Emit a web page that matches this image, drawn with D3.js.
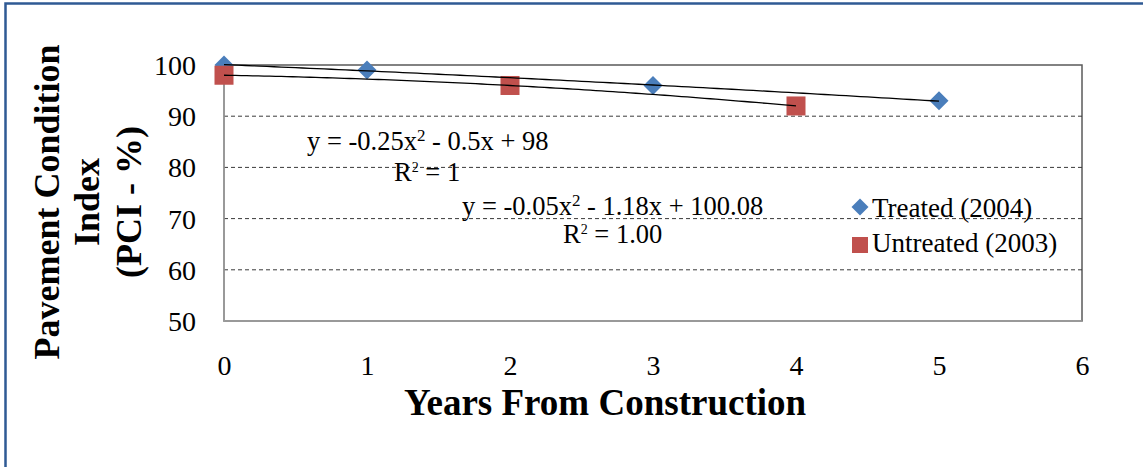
<!DOCTYPE html>
<html>
<head>
<meta charset="utf-8">
<script src="https://cdn.jsdelivr.net/npm/d3@7"></script>
<style>
  html, body { margin: 0; padding: 0; background: #fff; }
  svg { display: block; }
  text { font-family: "Liberation Serif", "Times New Roman", serif; fill: #000; }
</style>
</head>
<body>
<svg id="chart" width="1143" height="467"></svg>
<script>
// ---- data ----
const treatedYears = [0, 1, 3, 5];
const treatedPCI = [100, 99, 96, 93];
const untreatedYears = [0, 2, 4];
const untreatedPCI = [98, 96, 92];
// polynomial trendline coefficients [a2, a1, a0] (as printed on the chart)
const treatedTrend = [-0.05, -1.18, 100.08];
const untreatedTrend = [-0.25, -0.5, 98];
const xTicks = [0, 1, 2, 3, 4, 5, 6];
const yTicks = [50, 60, 70, 80, 90, 100];
const seriesNames = ["Treated (2004)", "Untreated (2003)"];
const yTitleLines = ["Pavement Condition", "Index", "(PCI - %)"];
const xTitle = "Years From Construction";

const svg = d3.select("#chart");

// outer frame (blue, only top/left visible)
svg.append("rect").attr("x", 5.5).attr("y", 3.5).attr("width", 1200).attr("height", 600)
  .attr("fill", "none").attr("stroke", "#2f5a94").attr("stroke-width", 2.5);

const x = d3.scaleLinear().domain([0, 6]).range([224, 1082]);
const y = d3.scaleLinear().domain([50, 100]).range([321, 65]);

// plot area border
svg.append("rect").attr("x", x(0)).attr("y", y(100)).attr("width", x(6) - x(0)).attr("height", y(50) - y(100))
  .attr("fill", "none").attr("stroke", "#5a5a5a").attr("stroke-width", 1.5);

// gridlines
svg.append("g").selectAll("line").data(yTicks.filter(d => d > 50 && d < 100)).join("line")
  .attr("x1", x(0)).attr("x2", x(6)).attr("y1", d => y(d)).attr("y2", d => y(d))
  .attr("stroke", "#3a3a3a").attr("stroke-width", 1).attr("stroke-dasharray", "4,3");

// axes lines (gray)
svg.append("line").attr("x1", x(0)).attr("x2", x(0)).attr("y1", y(100)).attr("y2", y(50))
  .attr("stroke", "#a0a0a0").attr("stroke-width", 1.5);
svg.append("line").attr("x1", x(0)).attr("x2", x(6)).attr("y1", y(50)).attr("y2", y(50))
  .attr("stroke", "#a0a0a0").attr("stroke-width", 1.5);

// y axis tick labels
const yAxis = svg.append("g").attr("transform", "translate(196,0)")
  .call(d3.axisLeft(y).tickValues(yTicks).tickSize(0).tickPadding(0).tickFormat(d3.format("d")));
yAxis.select(".domain").remove();
yAxis.selectAll("text").attr("font-size", 28).attr("dy", "0.34em");

// x axis tick labels
const xAxis = svg.append("g").attr("transform", "translate(0,356)")
  .call(d3.axisBottom(x).tickValues(xTicks).tickSize(0).tickPadding(0).tickFormat(d3.format("d")));
xAxis.select(".domain").remove();
xAxis.selectAll("text").attr("font-size", 28).attr("dy", "0.68em");

// trendlines
function trendPts(c, xmax) {
  const pts = [];
  for (let i = 0; i <= 100; i++) {
    const xv = xmax * i / 100;
    pts.push([xv, c[0] * xv * xv + c[1] * xv + c[2]]);
  }
  return pts;
}
const line = d3.line().x(d => x(d[0])).y(d => y(d[1]));
function diamondPath(cx, cy, r) {
  return `M${cx},${cy - r}L${cx + r},${cy}L${cx},${cy + r}L${cx - r},${cy}Z`;
}

// markers (treated first, untreated drawn over it)
svg.append("g").selectAll("path").data(treatedYears.map((d, i) => [d, treatedPCI[i]])).join("path")
  .attr("d", d => diamondPath(x(d[0]), y(d[1]), 9.5))
  .attr("fill", "#4a7ebb");
svg.append("g").selectAll("rect").data(untreatedYears.map((d, i) => [d, untreatedPCI[i]])).join("rect")
  .attr("x", d => x(d[0]) - 9.5).attr("y", d => y(d[1]) - 9.5).attr("width", 19).attr("height", 19)
  .attr("fill", "#c0504d");
// trendlines on top of markers (as in Excel)
svg.append("path").attr("d", line(trendPts(treatedTrend, d3.max(treatedYears))))
  .attr("fill", "none").attr("stroke", "#000").attr("stroke-width", 1.3);
svg.append("path").attr("d", line(trendPts(untreatedTrend, d3.max(untreatedYears))))
  .attr("fill", "none").attr("stroke", "#000").attr("stroke-width", 1.3);

// equation labels
function fmt(v) { return String(Math.abs(v)); }
const eqSize = 26.5;
function eqText(g, c, px, py) {
  const t = g.append("text").attr("x", px).attr("y", py).attr("font-size", eqSize);
  t.append("tspan").text(`y = ${c[0] < 0 ? "-" : ""}${fmt(c[0])}x`);
  t.append("tspan").text("2").attr("font-size", 17).attr("dy", -9);
  t.append("tspan").text(` ${c[1] < 0 ? "-" : "+"} ${fmt(c[1])}x + ${c[2].toFixed(String(c[2]).includes(".") ? 2 : 0)}`).attr("dy", 9);
}
function r2Text(g, label, px, py) {
  const t = g.append("text").attr("x", px).attr("y", py).attr("font-size", eqSize);
  t.append("tspan").text("R");
  t.append("tspan").text("2").attr("font-size", 14).attr("dy", -9);
  t.append("tspan").text(` = ${label}`).attr("dy", 9);
}
const eqG = svg.append("g");
eqText(eqG, untreatedTrend, 307, 150);
r2Text(eqG, "1", 394, 181);
eqText(eqG, treatedTrend, 462, 215);
r2Text(eqG, "1.00", 563, 243);

// legend
const lg = svg.append("g");
lg.append("path").attr("d", diamondPath(860, 207, 8.5)).attr("fill", "#4a7ebb");
lg.append("text").attr("x", 872).attr("y", 217).attr("font-size", 27).text(seriesNames[0]);
lg.append("rect").attr("x", 852).attr("y", 237).attr("width", 16).attr("height", 16).attr("fill", "#c0504d");
lg.append("text").attr("x", 872).attr("y", 252).attr("font-size", 27).text(seriesNames[1]);

// axis titles
svg.append("text").attr("x", 605).attr("y", 415).attr("text-anchor", "middle")
  .attr("font-size", 37).attr("font-weight", "bold").text(xTitle);
const yt = svg.append("g");
const lineX = [59, 99, 141];
yTitleLines.forEach((s, i) => {
  yt.append("text").attr("transform", `translate(${lineX[i]},202) rotate(-90)`)
    .attr("text-anchor", "middle").attr("font-size", 36).attr("font-weight", "bold").text(s);
});
</script>
</body>
</html>
